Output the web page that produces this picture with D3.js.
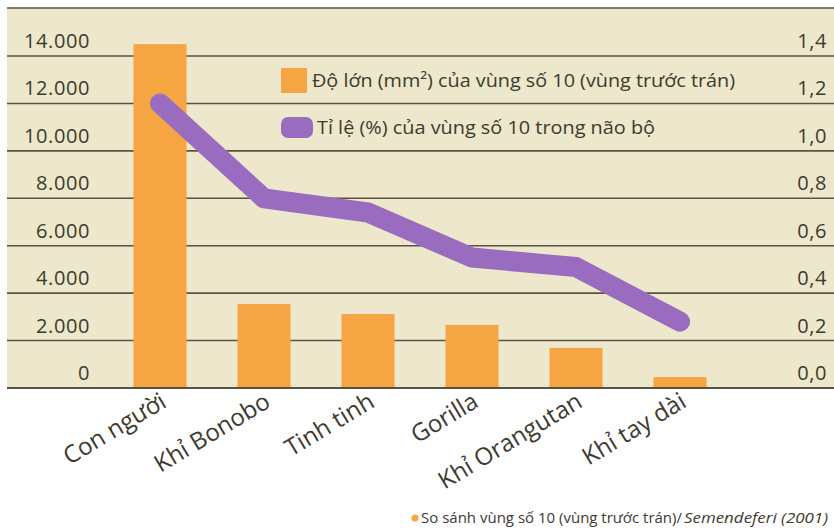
<!DOCTYPE html>
<html>
<head>
<meta charset="utf-8">
<script src="https://cdn.jsdelivr.net/npm/d3@7"></script>
<style>
  body { margin: 0; background: #ffffff; }
  svg { display: block; font-family: "Open Sans", sans-serif; }
</style>
</head>
<body>
<svg id="chart" width="834" height="531"></svg>
<script>
// Values
const species = ['Con người', 'Khỉ Bonobo', 'Tinh tinh', 'Gorilla', 'Khỉ Orangutan', 'Khỉ tay dài'];
const areaSize = [14500, 3540, 3120, 2660, 1690, 460];      // mm², bars, left axis
const areaShare = [1.20, 0.80, 0.74, 0.55, 0.51, 0.28];     // %, line, right axis
const leftTicks = [0, 2000, 4000, 6000, 8000, 10000, 12000, 14000];
const rightTicks = [0, 0.2, 0.4, 0.6, 0.8, 1.0, 1.2, 1.4];
const legendLabels = ['Độ lớn (mm²) của vùng số 10 (vùng trước trán)', 'Tỉ lệ (%) của vùng số 10 trong não bộ'];
const sourceText = 'So sánh vùng số 10 (vùng trước trán)/ ';
const sourceAuthor = 'Semendeferi (2001)';

const colors = {
    panel: '#ede7cb',
    grid: '#5b5340',
    bar: '#f6a543',
    line: '#9a6cc0',
    text: '#3d3a2e'
};

const svg = d3.select('#chart');
const panelLeft = 7, panelRight = 834, panelTop = 8, zeroY = 388, topTickY = 56;

const viLocale = d3.formatLocale({ decimal: ',', thousands: '.', grouping: [3], currency: ['', ''] });
const fmtLeft = viLocale.format(',.0f');
const fmtRight = viLocale.format('.1f');

const x = d3.scaleBand()
    .domain(species)
    .range([108, 732])
    .paddingInner(0.49)
    .paddingOuter(0.245);
const yLeft = d3.scaleLinear().domain([0, 14000]).range([zeroY, topTickY]);
const yRight = d3.scaleLinear().domain([0, 1.4]).range([zeroY, topTickY]);

// beige plot panel
svg.append('rect')
    .attr('x', panelLeft).attr('y', panelTop)
    .attr('width', panelRight - panelLeft).attr('height', zeroY - panelTop)
    .attr('fill', colors.panel);
svg.append('line')
    .attr('x1', panelLeft).attr('x2', panelRight)
    .attr('y1', panelTop).attr('y2', panelTop)
    .attr('stroke', colors.grid).attr('stroke-width', 1.5);

// grid lines
svg.append('g').selectAll('line')
    .data(leftTicks)
    .join('line')
    .attr('x1', panelLeft).attr('x2', panelRight)
    .attr('y1', d => yLeft(d)).attr('y2', d => yLeft(d))
    .attr('stroke', colors.grid)
    .attr('stroke-width', d => d === 0 ? 2 : 1.6);

// bars
svg.append('g').selectAll('rect')
    .data(areaSize)
    .join('rect')
    .attr('x', (d, i) => x(species[i]))
    .attr('y', d => yLeft(d))
    .attr('width', x.bandwidth())
    .attr('height', d => zeroY - yLeft(d) - 1)
    .attr('fill', colors.bar);

// ratio line
const line = d3.line()
    .x((d, i) => x(species[i]) + x.bandwidth() / 2)
    .y(d => yRight(d));
svg.append('path')
    .datum(areaShare)
    .attr('d', line)
    .attr('fill', 'none')
    .attr('stroke', colors.line)
    .attr('stroke-width', 20)
    .attr('stroke-linecap', 'round')
    .attr('stroke-linejoin', 'round');

// left tick labels, sitting above their line
svg.append('g').selectAll('text')
    .data(leftTicks)
    .join('text')
    .attr('x', 90)
    .attr('y', d => yLeft(d) - 8)
    .attr('text-anchor', 'end')
    .attr('font-size', 20)
    .attr('letter-spacing', 0.6)
    .attr('fill', colors.text)
    .text(d => fmtLeft(d));

// right tick labels
svg.append('g').selectAll('text')
    .data(rightTicks)
    .join('text')
    .attr('x', 827)
    .attr('y', d => yRight(d) - 8)
    .attr('text-anchor', 'end')
    .attr('font-size', 20)
    .attr('letter-spacing', 0.6)
    .attr('fill', colors.text)
    .text(d => fmtRight(d));

// category labels, slanted
svg.append('g').selectAll('text')
    .data(species)
    .join('text')
    .attr('transform', d => 'translate(' + (x(d) + x.bandwidth() / 2 + 8) + ',406) rotate(-31)')
    .attr('text-anchor', 'end')
    .attr('font-size', 24)
    .attr('fill', colors.text)
    .text(d => d);

// legend
const legend = svg.append('g');
legend.append('rect')
    .attr('x', 281).attr('y', 68).attr('width', 26).attr('height', 25)
    .attr('fill', colors.bar);
legend.append('rect')
    .attr('x', 281).attr('y', 117).attr('width', 32).attr('height', 21)
    .attr('rx', 7)
    .attr('fill', colors.line);
const legendWidths = [423, 338];
legend.selectAll('text.lg')
    .data(legendLabels)
    .join('text')
    .attr('class', 'lg')
    .attr('x', (d, i) => i === 0 ? 312 : 317)
    .attr('y', (d, i) => i === 0 ? 87 : 134)
    .attr('font-size', 18)
    .attr('textLength', (d, i) => legendWidths[i])
    .attr('lengthAdjust', 'spacingAndGlyphs')
    .attr('fill', colors.text)
    .text(d => d);

// source note
svg.append('circle')
    .attr('cx', 415).attr('cy', 518).attr('r', 3.5)
    .attr('fill', colors.bar);
svg.append('text')
    .attr('x', 421).attr('y', 523)
    .attr('font-size', 15)
    .attr('fill', colors.text)
    .attr('textLength', 261)
    .attr('lengthAdjust', 'spacingAndGlyphs')
    .text(sourceText);
svg.append('text')
    .attr('x', 684).attr('y', 523)
    .attr('font-size', 15)
    .attr('font-style', 'italic')
    .attr('fill', colors.text)
    .attr('textLength', 144)
    .attr('lengthAdjust', 'spacingAndGlyphs')
    .text(sourceAuthor);
</script>
</body>
</html>
